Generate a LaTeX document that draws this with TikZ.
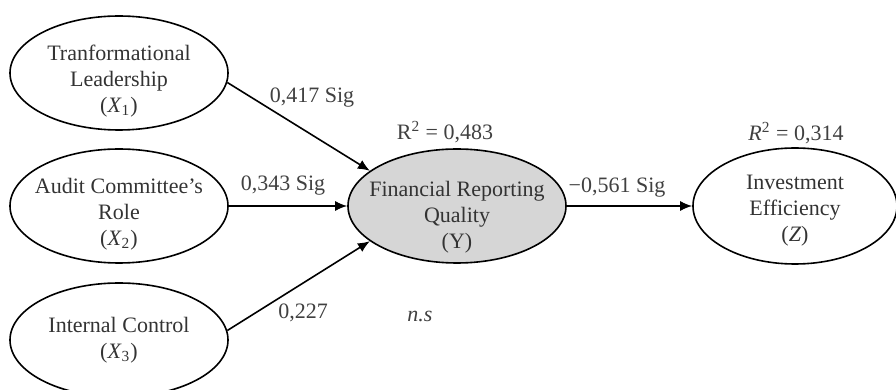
\documentclass[tikz,border=0pt]{standalone}
\usepackage{fontspec}
\setmainfont{Liberation Serif}
\usetikzlibrary{shapes.geometric,arrows.meta}
\newcommand{\topgap}[1]{\rule{0pt}{#1}}
\begin{document}
\begin{tikzpicture}[x=0.5pt,y=-0.5pt,
    latent/.style={ellipse,draw=black,thick,inner ysep=-6pt,inner xsep=-12pt,minimum width=109pt,minimum height=57pt,align=center,text=black!80,font=\fontsize{11}{13}\selectfont},
    effect/.style={thick,-{Latex[length=6pt,width=5pt]}},
    coef/.style={text=black!75,font=\fontsize{11}{13}\selectfont}]
    \useasboundingbox (0,0) rectangle (896,390);

    % exogenous constructs
    \node[latent] (tl) at (119,73) {\topgap{16pt}Tranformational\\Leadership\\(\textit{X}\textsubscript{1})};
    \node[latent] (ac) at (119,206) {\topgap{16pt}Audit Committee's\\Role\\(\textit{X}\textsubscript{2})};
    \node[latent] (ic) at (119,340) {Internal Control\\(\textit{X}\textsubscript{3})};

    % mediator and outcome
    \node[latent,fill=black!16] (frq) at (457,206) {\topgap{19pt}Financial Reporting\\Quality\\(Y)};
    \node[latent,minimum width=102pt,minimum height=58pt] (ie) at (795,206) {\topgap{12pt}Investment\\Efficiency\\(\textit{Z})};

    \draw[effect] (tl.-5) -- (frq.158);
    \draw[effect] (ac.east) -- (frq.west);
    \draw[effect] (ic.5) -- (frq.202);
    \draw[effect] (frq.east) -- (ie.west);

    % path coefficients
    \node[coef] (b1) at (312,98) {0,417 Sig};
    \node[coef] (b2) at (283,186) {0,343 Sig};
    \node[coef] (b3) at (303,313) {0,227};
    \node[coef] (b4) at (617,188) {−0,561 Sig};
    \node[coef] (ns) at (420,316) {\textit{n.s}};
    \node[coef] (r1) at (445,132) {R\textsuperscript{2} = 0,483};
    \node[coef] (r2) at (796,133) {\textit{R}\textsuperscript{2} = 0,314};
\end{tikzpicture}
\end{document}
